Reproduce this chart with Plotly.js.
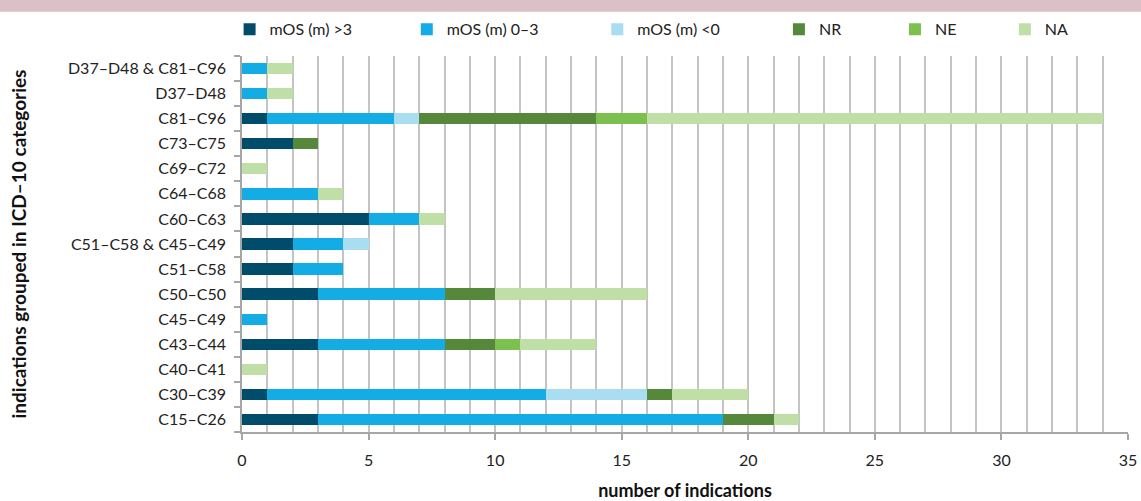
<!DOCTYPE html>
<html>
<head>
<meta charset="utf-8">
<script src="https://cdn.plot.ly/plotly-3.0.1.min.js"></script>
<style>html,body{margin:0;padding:0;background:#fff;}#chart{width:1141px;height:501px;}</style>
</head>
<body>
<div id="chart"></div>
<script>
// categories from bottom to top
const categories = ["C15–C26","C30–C39","C40–C41","C43–C44","C45–C49","C50–C50","C51–C58","C51–C58 & C45–C49","C60–C63","C64–C68","C69–C72","C73–C75","C81–C96","D37–D48","D37–D48 & C81–C96"];
const seriesNames = ["mOS (m) >3","mOS (m) 0–3","mOS (m) <0","NR","NE","NA"];
const mosGt3  = [3, 1, 0, 3, 0, 3, 2, 2, 5, 0, 0, 2, 1, 0, 0];
const mos0to3 = [16,11, 0, 5, 1, 5, 2, 2, 2, 3, 0, 0, 5, 1, 1];
const mosLt0  = [0, 4, 0, 0, 0, 0, 0, 1, 0, 0, 0, 0, 1, 0, 0];
const nr      = [2, 1, 0, 2, 0, 2, 0, 0, 0, 0, 0, 1, 7, 0, 0];
const ne      = [0, 0, 0, 1, 0, 0, 0, 0, 0, 0, 0, 0, 2, 0, 0];
const na      = [1, 3, 1, 3, 0, 6, 0, 0, 1, 1, 1, 0,18, 1, 1];
const xTicks  = [0,5,10,15,20,25,30,35];

const values = [mosGt3, mos0to3, mosLt0, nr, ne, na];
const colors = ["#004d6b","#13ace4","#a9ddf2","#55883b","#7cc150","#bfdfa6"];
const legendX = [-0.014, 0.186, 0.401, 0.606, 0.737, 0.861];
const FONT = "Lato, 'Open Sans', sans-serif";

const traces = values.map((v, i) => ({
  type: "bar",
  orientation: "h",
  name: seriesNames[i],
  y: categories,
  x: v,
  marker: {color: colors[i], line: {width: 0}},
  legend: i === 0 ? "legend" : "legend" + (i + 1),
  hoverinfo: "x+y+name"
}));

const layout = {
  width: 1141, height: 501,
  margin: {l: 242, r: 13, t: 52, b: 69},
  paper_bgcolor: "#fff", plot_bgcolor: "#fff",
  font: {family: FONT, size: 16, color: "#222"},
  barmode: "stack",
  bargap: 0.55,
  showlegend: true,
  xaxis: {
    range: [0, 35],
    tickvals: xTicks,
    ticktext: xTicks.map(String),
    showgrid: true, gridcolor: "#c4c4c4", gridwidth: 1.5,
    minor: {dtick: 1, showgrid: true, gridcolor: "#c4c4c4", gridwidth: 1.5},
    showline: true, linecolor: "#a6a6a6", linewidth: 1.5,
    ticks: "outside", ticklen: 6, tickcolor: "#a6a6a6", tickwidth: 1.5,
    ticklabelstandoff: 7,
    zeroline: false, fixedrange: true,
    tickfont: {family: FONT, size: 16, color: "#222"},
    title: {text: "number of indications", font: {family: FONT, size: 18, color: "#111", weight: "bold"}, standoff: 22}
  },
  yaxis: {
    type: "category",
    categoryorder: "array", categoryarray: categories,
    showgrid: false,
    showline: true, linecolor: "#a6a6a6", linewidth: 1.5,
    ticks: "outside", ticklen: 6, tickcolor: "#a6a6a6", tickwidth: 1.5,
    tickson: "boundaries",
    ticklabelstandoff: 11,
    fixedrange: true,
    tickfont: {family: FONT, size: 16, color: "#222"},
    title: {text: "indications grouped in ICD–10 categories", font: {family: FONT, size: 19, color: "#111", weight: "bold"}, standoff: 36}
  },
  shapes: [{
    type: "rect", xref: "paper", yref: "paper",
    x0: -0.3, x1: 1.05, y0: 1.118, y1: 1.16,
    fillcolor: "#dcc0c7", line: {width: 0}, layer: "above"
  }]
};
legendX.forEach((lx, i) => {
  const key = i === 0 ? "legend" : "legend" + (i + 1);
  layout[key] = {
    x: lx, xanchor: "left", y: 1.071, yanchor: "middle",
    orientation: "h", bgcolor: "rgba(0,0,0,0)", borderwidth: 0,
    font: {family: FONT, size: 16, color: "#222"},
    itemclick: false, itemdoubleclick: false
  };
});

Plotly.newPlot("chart", traces, layout, {displayModeBar: false, staticPlot: false});
</script>
</body>
</html>
